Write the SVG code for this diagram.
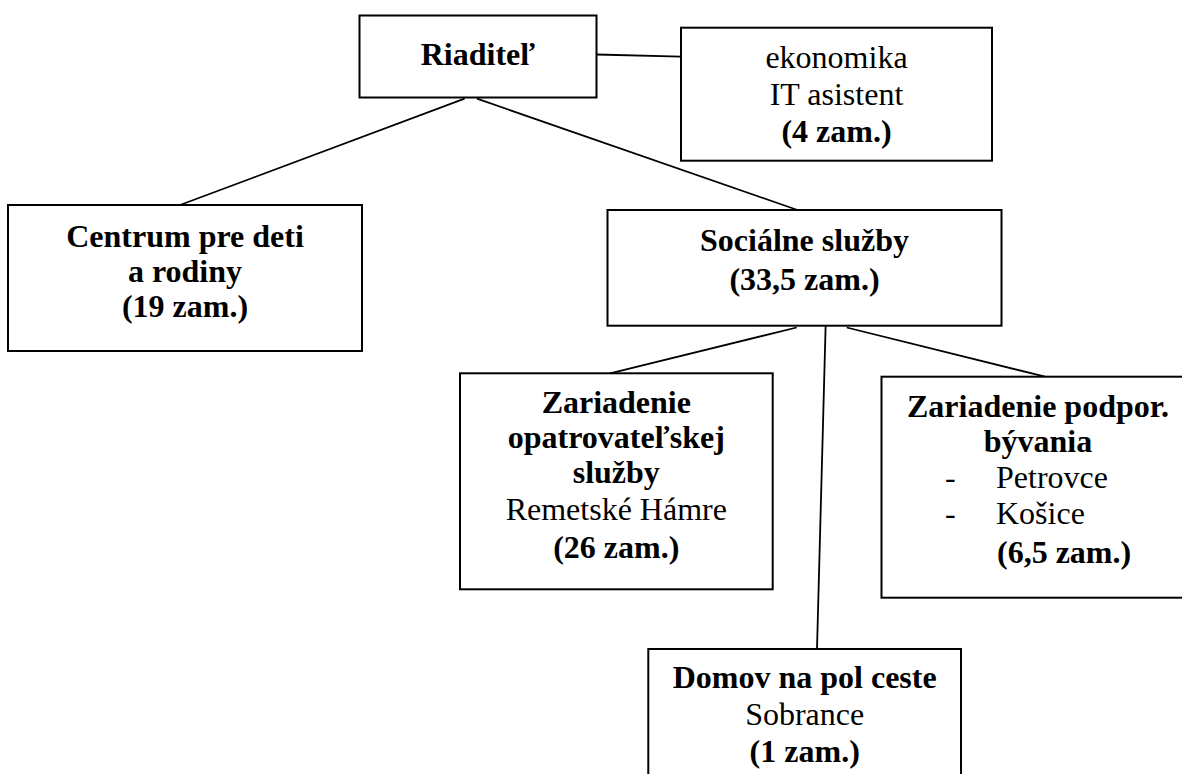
<svg xmlns="http://www.w3.org/2000/svg" width="1182" height="774" viewBox="0 0 1182 774">
<style>
.box{fill:#ffffff;stroke:#000000;stroke-width:2}
.conn line{stroke:#000000;stroke-width:1.8}
text{font-family:"Liberation Serif","Times New Roman",serif;font-size:32px;fill:#000000}
.b{font-weight:bold}
.c{text-anchor:middle}
</style>
<rect width="1182" height="774" fill="#ffffff"/>
<g id="connectors" class="conn">
<line x1="596.6" y1="54.5" x2="681" y2="56.7"/>
<line x1="464.6" y1="98.7" x2="180" y2="205"/>
<line x1="477" y1="98.7" x2="797.5" y2="210"/>
<line x1="796.7" y1="327.5" x2="610" y2="373.3"/>
<line x1="846.7" y1="327.5" x2="1045" y2="376.7"/>
<line x1="825.7" y1="323" x2="817" y2="649"/>
</g>
<g id="riaditel">
<rect class="box" x="359.5" y="15.5" width="237" height="82"/>
<text class="b c" x="478" y="65">Riaditeľ</text>
</g>
<g id="ekonomika">
<rect class="box" x="681" y="27.7" width="311" height="133"/>
<text class="c" x="836.5" y="68">ekonomika</text>
<text class="c" x="836.5" y="105">IT asistent</text>
<text class="b c" x="836.5" y="142">(4 zam.)</text>
</g>
<g id="centrum">
<rect class="box" x="8" y="205" width="354" height="146"/>
<text class="b c" x="185" y="247">Centrum pre deti</text>
<text class="b c" x="185" y="282">a rodiny</text>
<text class="b c" x="185" y="317">(19 zam.)</text>
</g>
<g id="socialne">
<rect class="box" x="607.5" y="210" width="394" height="115.7"/>
<text class="b c" x="804.5" y="251">Sociálne služby</text>
<text class="b c" x="804.5" y="290">(33,5 zam.)</text>
</g>
<g id="opatrovatelska">
<rect class="box" x="460" y="373.3" width="312.7" height="216"/>
<text class="b c" x="616.3" y="413">Zariadenie</text>
<text class="b c" x="616.3" y="448">opatrovateľskej</text>
<text class="b c" x="616.3" y="483">služby</text>
<text class="c" x="616.3" y="520">Remetské Hámre</text>
<text class="b c" x="616.3" y="558">(26 zam.)</text>
</g>
<g id="podporovane">
<rect class="box" x="881.5" y="376.7" width="320" height="221"/>
<text class="b c" x="1038" y="417">Zariadenie podpor.</text>
<text class="b c" x="1038" y="452">bývania</text>
<text x="945" y="488">-</text>
<text x="996" y="488">Petrovce</text>
<text x="945" y="524">-</text>
<text x="996" y="524">Košice</text>
<text class="b" x="997" y="563">(6,5 zam.)</text>
</g>
<g id="domov">
<rect class="box" x="648.3" y="649" width="312.7" height="140"/>
<text class="b c" x="804.7" y="688">Domov na pol ceste</text>
<text class="c" x="804.7" y="725">Sobrance</text>
<text class="b c" x="804.7" y="762">(1 zam.)</text>
</g>
</svg>
